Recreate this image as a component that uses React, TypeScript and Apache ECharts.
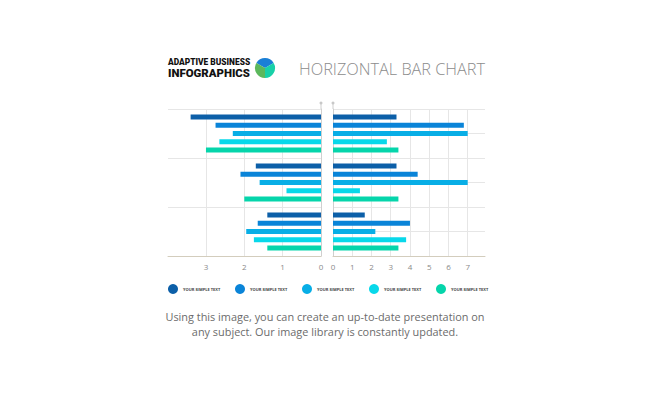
import React, { useEffect, useRef } from "react";
import * as echarts from "echarts";

const categories = ["Group A", "Group B", "Group C"];
const seriesNames = ["s1", "s2", "s3", "s4", "s5"];
const legendLabel = "YOUR SIMPLE TEXT";
const colors = ["#0c5fa8", "#0a84d8", "#08aee6", "#08d8ea", "#05d5ab"];

const leftS1 = [3.4, 1.7, 1.4];
const leftS2 = [2.75, 2.1, 1.65];
const leftS3 = [2.3, 1.6, 1.95];
const leftS4 = [2.65, 0.9, 1.75];
const leftS5 = [3.0, 2.0, 1.4];

const rightS1 = [3.3, 3.3, 1.65];
const rightS2 = [6.8, 4.4, 4.0];
const rightS3 = [7.0, 7.0, 2.2];
const rightS4 = [2.8, 1.4, 3.8];
const rightS5 = [3.4, 3.4, 3.4];

const leftTicks = [0, 1, 2, 3];
const rightTicks = [0, 1, 2, 3, 4, 5, 6, 7];

const title = "HORIZONTAL BAR CHART";
const brandLine1 = "ADAPTIVE BUSINESS";
const brandLine2 = "INFOGRAPHICS";
const footer1 = "Using this image, you can create an up-to-date presentation on";
const footer2 = "any subject. Our image library is constantly updated.";

const FONT = "'Open Sans', sans-serif";

export default function App() {
  const ref = useRef<HTMLDivElement>(null);
  useEffect(() => {
    if (!ref.current) return;
    const chart = echarts.init(ref.current, null, { renderer: "svg" });
    const leftData = [leftS1, leftS2, leftS3, leftS4, leftS5];
    const rightData = [rightS1, rightS2, rightS3, rightS4, rightS5];
    const splitColor = "#e6e6e6";
    const axisLabel = { color: "#8a8a8a", fontSize: 8, fontFamily: FONT, margin: 6 };

    const series: any[] = [];
    seriesNames.forEach((n, i) => {
      series.push({
        name: n, type: "bar", xAxisIndex: 0, yAxisIndex: 0,
        data: leftData[i], barWidth: 5, barGap: "65%",
        itemStyle: { color: colors[i] }, silent: true,
      });
    });
    seriesNames.forEach((n, i) => {
      series.push({
        name: n, type: "bar", xAxisIndex: 1, yAxisIndex: 1,
        data: rightData[i], barWidth: 5, barGap: "65%",
        itemStyle: { color: colors[i] }, silent: true,
      });
    });

    const legendLefts = [168, 235, 302, 369, 436];
    const legends = seriesNames.map((n, i) => ({
      data: [n], left: legendLefts[i], top: 284, icon: "circle",
      itemWidth: 10, itemHeight: 10, selectedMode: false, padding: 0,
      formatter: () => legendLabel,
      textStyle: { fontSize: 4, fontWeight: "bold", color: "#444", fontFamily: FONT },
    }));

    chart.setOption({
      animation: false,
      backgroundColor: "#ffffff",
      legend: legends,
      grid: [
        { left: 168, right: 650 - 321, top: 109, bottom: 397 - 256 },
        { left: 333, right: 650 - 485, top: 109, bottom: 397 - 256 },
      ],
      xAxis: [
        {
          type: "value", gridIndex: 0, inverse: true, min: 0, max: 3.99, interval: 1,
          axisLine: { show: true, lineStyle: { color: "#d3cdbd", width: 1 } },
          axisTick: { show: false },
          axisLabel: { ...axisLabel, formatter: (v: number) => (leftTicks.includes(v) ? String(v) : "") },
          splitLine: { show: true, showMaxLine: false, lineStyle: { color: splitColor } },
        },
        {
          type: "value", gridIndex: 1, min: 0, max: 7.9, interval: 1,
          axisLine: { show: true, lineStyle: { color: "#d3cdbd", width: 1 } },
          axisTick: { show: false },
          axisLabel: { ...axisLabel, formatter: (v: number) => (rightTicks.includes(v) ? String(v) : "") },
          splitLine: { show: true, showMaxLine: false, lineStyle: { color: splitColor } },
        },
      ],
      yAxis: [
        {
          type: "category", gridIndex: 0, data: categories, inverse: true, position: "right",
          axisLine: { show: true, lineStyle: { color: "#cfcfcf" } },
          axisTick: { show: false }, axisLabel: { show: false },
          splitLine: { show: true, lineStyle: { color: splitColor } },
        },
        {
          type: "category", gridIndex: 1, data: categories, inverse: true, position: "left",
          axisLine: { show: true, lineStyle: { color: "#cfcfcf" } },
          axisTick: { show: false }, axisLabel: { show: false },
          splitLine: { show: true, lineStyle: { color: splitColor } },
        },
        {
          type: "value", gridIndex: 1, min: 0, max: 6, interval: 1,
          axisLine: { show: false }, axisTick: { show: false }, axisLabel: { show: false },
          splitLine: { show: true, lineStyle: { color: splitColor } },
        },
      ],
      series,
      graphic: [
        { type: "line", shape: { x1: 321, y1: 103, x2: 321, y2: 109 }, style: { stroke: "#cfcfcf", lineWidth: 1 } },
        { type: "circle", shape: { cx: 321, cy: 103, r: 1.5 }, style: { fill: "#c8c8c8" } },
        { type: "line", shape: { x1: 333, y1: 103, x2: 333, y2: 109 }, style: { stroke: "#cfcfcf", lineWidth: 1 } },
        { type: "circle", shape: { cx: 333, cy: 103, r: 1.5 }, style: { fill: "#c8c8c8" } },
        {
          type: "text", left: 168, top: 57,
          style: { text: brandLine1, fontSize: 8.4, lineHeight: 9, fontWeight: 900, fill: "#111", fontFamily: "Roboto, sans-serif" },
        },
        {
          type: "text", left: 168, top: 66.5,
          style: { text: brandLine2, fontSize: 11.4, lineHeight: 12, fontWeight: 900, fill: "#111", fontFamily: "Roboto, sans-serif" },
        },
        {
          type: "sector", shape: { cx: 265, cy: 68, r0: 0, r: 10, startAngle: (-150 * Math.PI) / 180, endAngle: (-30 * Math.PI) / 180 },
          style: { fill: "#1a7fd6" },
        },
        {
          type: "sector", shape: { cx: 265, cy: 68, r0: 0, r: 10, startAngle: (-30 * Math.PI) / 180, endAngle: (90 * Math.PI) / 180 },
          style: { fill: "#18d0a8" },
        },
        {
          type: "sector", shape: { cx: 265, cy: 68, r0: 0, r: 10, startAngle: (90 * Math.PI) / 180, endAngle: (210 * Math.PI) / 180 },
          style: { fill: "#5cb85c" },
        },
        {
          type: "text", left: 299, top: 61,
          style: { text: title, fontSize: 16.3, fontWeight: 300, fill: "#8c8c8c", fontFamily: FONT },
        },
        {
          type: "text", left: "center", top: 311,
          style: { text: footer1, fontSize: 10.9, fill: "#6b6b6b", fontFamily: FONT, align: "center" },
        },
        {
          type: "text", left: "center", top: 326,
          style: { text: footer2, fontSize: 10.9, fill: "#6b6b6b", fontFamily: FONT, align: "center" },
        },
      ],
    });
    return () => chart.dispose();
  }, []);
  return <div ref={ref} style={{ width: 650, height: 397, position: "absolute", left: 0, top: 0 }} />;
}
